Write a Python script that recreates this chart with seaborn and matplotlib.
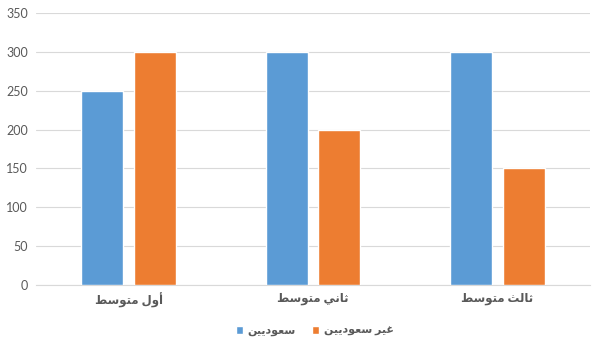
import matplotlib
matplotlib.use("Agg")
import matplotlib.pyplot as plt
import seaborn as sns
import pandas as pd

categories = ["أول متوسط", "ثاني متوسط", "ثالث متوسط"]
series_names = ["سعوديين", "غير سعوديين"]
saudi = [250, 300, 300]
non_saudi = [300, 200, 150]
y_ticks = [0, 50, 100, 150, 200, 250, 300, 350]

# presentation forms: isolated, final, initial, medial (None = joins only on the right)
FORMS = {
    "ا": ("\uFE8D", "\uFE8E", None, None),
    "أ": ("\uFE83", "\uFE84", None, None),
    "و": ("\uFEED", "\uFEEE", None, None),
    "د": ("\uFEA9", "\uFEAA", None, None),
    "ر": ("\uFEAD", "\uFEAE", None, None),
    "ل": ("\uFEDD", "\uFEDE", "\uFEDF", "\uFEE0"),
    "م": ("\uFEE1", "\uFEE2", "\uFEE3", "\uFEE4"),
    "ت": ("\uFE95", "\uFE96", "\uFE97", "\uFE98"),
    "س": ("\uFEB1", "\uFEB2", "\uFEB3", "\uFEB4"),
    "ط": ("\uFEC1", "\uFEC2", "\uFEC3", "\uFEC4"),
    "ث": ("\uFE99", "\uFE9A", "\uFE9B", "\uFE9C"),
    "ن": ("\uFEE5", "\uFEE6", "\uFEE7", "\uFEE8"),
    "ي": ("\uFEF1", "\uFEF2", "\uFEF3", "\uFEF4"),
    "ع": ("\uFEC9", "\uFECA", "\uFECB", "\uFECC"),
    "غ": ("\uFECD", "\uFECE", "\uFECF", "\uFED0"),
}


def shape(text):
    # matplotlib has no arabic shaping, so pick the joined forms and reverse
    out = []
    for i, ch in enumerate(text):
        if ch not in FORMS:
            out.append(ch)
            continue
        prev = text[i - 1] if i > 0 else None
        nxt = text[i + 1] if i + 1 < len(text) else None
        f = FORMS[ch]
        join_prev = prev in FORMS and FORMS[prev][2] is not None
        join_next = nxt in FORMS and f[2] is not None
        if join_prev and join_next:
            out.append(f[3])
        elif join_prev:
            out.append(f[1])
        elif join_next:
            out.append(f[2])
        else:
            out.append(f[0])
    return "".join(reversed(out))


rows = []
for c, a, b in zip(categories, saudi, non_saudi):
    rows.append({"cat": shape(c), "group": shape(series_names[0]), "value": a})
    rows.append({"cat": shape(c), "group": shape(series_names[1]), "value": b})
df = pd.DataFrame(rows)

sns.set_theme(style="white")
plt.rcParams["font.family"] = ["Lato", "DejaVu Sans"]

fig = plt.figure(figsize=(5.98, 3.44), dpi=100)
ax = fig.add_axes([0.061, 0.172, 0.925, 0.79])

ax = sns.barplot(data=df, x="cat", y="value", hue="group",
                 palette=["#5B9BD5", "#ED7D31"], width=0.57, gap=0.2,
                 saturation=1, ax=ax, zorder=3)

ax.set_ylim(0, 350)
ax.set_yticks(y_ticks)
ax.set_xlim(-0.5, 2.5)
ax.yaxis.grid(True, color="#D9D9D9", linewidth=0.8, zorder=0)
for s in ["top", "right", "left"]:
    ax.spines[s].set_visible(False)
ax.spines["bottom"].set_color("#D9D9D9")
ax.spines["bottom"].set_linewidth(0.8)
ax.tick_params(axis="both", length=0, labelsize=9, colors="#595959", pad=6)
for lbl in ax.get_xticklabels():
    lbl.set_fontweight("bold")
    lbl.set_fontsize(8.5)
ax.set_xlabel("")
ax.set_ylabel("")

leg = ax.legend(loc="upper center", bbox_to_anchor=(0.503, -0.11), ncol=2, frameon=False,
                fontsize=8, labelcolor="#595959", handlelength=0.7, handleheight=0.7,
                handletextpad=0.4, columnspacing=1.4)
for t in leg.get_texts():
    t.set_fontweight("bold")

plt.savefig("out.png", dpi=100)
plt.close()
